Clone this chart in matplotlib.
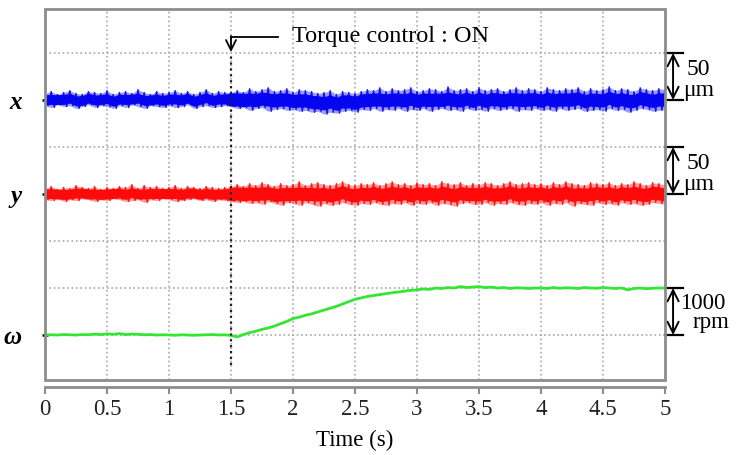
import numpy as np
import matplotlib
matplotlib.use("Agg")
import matplotlib.pyplot as plt
from matplotlib.patches import Rectangle

# time base: one sample every 0.05 s, 0 .. 5 s
t = np.linspace(0, 5, 101)

# x displacement envelope (um)
x_upper = [7, 9, 6, 8, 10, 7, 6, 9, 8, 7,
           10, 6, 8, 9, 7, 11, 8, 6, 9, 7,
           8, 10, 7, 9, 6, 8, 11, 7, 9, 8,
           8, 10, 8, 12, 9, 11, 13, 9, 10, 12,
           8, 11, 10, 9, 7, 8, 10, 6, 9, 8,
           7, 9, 11, 10, 13, 9, 12, 10, 11, 13,
           9, 10, 12, 11, 9, 14, 10, 11, 12, 9,
           13, 10, 11, 12, 9, 11, 13, 10, 12, 11,
           9, 13, 11, 10, 12, 11, 13, 9, 12, 10,
           11, 14, 10, 12, 11, 9, 13, 11, 10, 12,
           11]
x_lower = [-6, -8, -5, -7, -6, -9, -7, -5, -8, -6,
           -7, -9, -6, -8, -5, -7, -9, -6, -7, -8,
           -6, -8, -7, -5, -9, -7, -6, -8, -7, -6,
           -7, -9, -8, -11, -9, -8, -12, -10, -9, -11,
           -10, -12, -11, -13, -12, -15, -13, -14, -12, -11,
           -13, -10, -11, -9, -12, -10, -11, -9, -12, -10,
           -11, -9, -12, -10, -9, -11, -10, -12, -9, -11,
           -10, -12, -9, -11, -10, -9, -12, -10, -11, -9,
           -11, -10, -12, -9, -11, -10, -9, -12, -11, -10,
           -12, -9, -11, -10, -13, -11, -9, -10, -12, -11,
           -10]

# y displacement envelope (um), red band
y_upper = [6, 8, 5, 7, 6, 9, 7, 6, 8, 5,
           7, 6, 8, 7, 10, 6, 9, 7, 8, 6,
           7, 9, 6, 8, 7, 6, 8, 7, 6, 7,
           8, 10, 8, 11, 9, 12, 10, 8, 11, 9,
           10, 13, 9, 11, 12, 10, 9, 11, 13, 10,
           9, 11, 10, 12, 9, 11, 13, 10, 11, 9,
           12, 10, 11, 9, 13, 11, 10, 12, 9, 11,
           10, 12, 11, 9, 11, 13, 10, 11, 12, 10,
           11, 9, 12, 10, 13, 11, 10, 9, 12, 11,
           10, 12, 9, 11, 10, 13, 11, 9, 12, 11,
           10]
y_lower = [-6, -7, -5, -8, -6, -7, -5, -6, -8, -6,
           -7, -5, -6, -8, -7, -6, -9, -6, -7, -5,
           -6, -8, -7, -6, -5, -7, -6, -8, -6, -7,
           -8, -9, -8, -10, -9, -11, -8, -10, -12, -9,
           -10, -12, -9, -11, -13, -10, -12, -11, -9, -11,
           -12, -10, -11, -9, -11, -12, -10, -11, -9, -12,
           -10, -11, -9, -12, -10, -11, -13, -10, -9, -11,
           -11, -9, -12, -10, -11, -9, -11, -12, -10, -11,
           -9, -12, -10, -11, -9, -13, -10, -11, -12, -9,
           -11, -10, -12, -9, -11, -10, -12, -11, -9, -10,
           -11]

# rotor speed change (rpm)
omega = [0, 5, 0, 10, 5, 0, 10, 5, 20, 10,
         25, 15, 30, 10, 20, 15, 5, 10, 0, 5,
         0, -5, 5, 0, -5, 0, 5, 10, 0, 5,
         -10, -40, 10, 50, 80, 120, 150, 190, 240, 290,
         350, 380, 420, 450, 490, 530, 570, 610, 660, 710,
         760, 790, 820, 840, 860, 880, 900, 915, 935, 950,
         960, 980, 970, 1000, 990, 1010, 1000, 1030, 1010, 1020,
         1030, 1010, 1020, 1000, 1010, 990, 1005, 1000, 990, 1000,
         1000, 990, 1010, 995, 1005, 1000, 990, 1010, 1000, 995,
         1010, 1000, 990, 1000, 960, 990, 1000, 985, 995, 1000,
         1000]

x_ticks = [0, 0.5, 1, 1.5, 2, 2.5, 3, 3.5, 4, 4.5, 5]
x_ticklabels = ["0", "0.5", "1", "1.5", "2", "2.5", "3", "3.5", "4", "4.5", "5"]
sig_levels = [1, 4, 6]          # grid division of each trace baseline
sig_labels = ["ω", "y", "x"]
t_on = 1.5

# scales: one grid division = 50 um or 1000 rpm
UM_PER_DIV = 50.0
RPM_PER_DIV = 1000.0

plt.rcParams["font.family"] = ["Liberation Serif", "DejaVu Serif"]

fig = plt.figure(figsize=(7.37, 4.55), dpi=100)
ax = fig.add_axes([45 / 737, 1 - 380 / 455, 620 / 737, 371 / 455])

ax.set_xlim(0, 5)
ax.set_ylim(0.043, 7.936)

# grid
for gx in x_ticks[1:-1]:
    ax.axvline(gx, color="#a8a8a8", ls=":", lw=1.2, zorder=1)
for gy in range(1, 8):
    ax.axhline(gy, color="#a8a8a8", ls=":", lw=1.2, zorder=1)


def noise_band(level, upper, lower, color):
    up = level + np.array(upper) / UM_PER_DIV
    lo = level + np.array(lower) / UM_PER_DIV
    mid = (up + lo) / 2
    # solid core, narrower before the torque control starts
    half = np.where(t < t_on, 0.105, 0.14)
    ax.fill_between(t, mid - half, mid + half, color=color, lw=0, zorder=3)
    # soft outer band with spikes between the envelope points
    ax.fill_between(t, lo, up, color=color, lw=0, alpha=0.4, zorder=3)
    tz = np.empty(2 * len(t) - 1)
    yz = np.empty(2 * len(t) - 1)
    tz[0::2] = t
    tz[1::2] = t[:-1] + 0.025
    yz[0::2] = up
    yz[1::2] = lo[:-1]
    ax.plot(tz, yz, color=color, lw=1.0, alpha=0.9, zorder=3)


noise_band(sig_levels[2], x_upper, x_lower, "#0505f0")
noise_band(sig_levels[1], y_upper, y_lower, "#ff0a0a")
ax.plot(t, sig_levels[0] + np.array(omega) / RPM_PER_DIV, color="#33e633", lw=2, zorder=3)

# torque control switch-on marker
ax.plot([t_on, t_on], [0.36, 7.0], color="#202020", ls=":", lw=1.6, zorder=4)
ax.annotate("", xy=(t_on, 7.02), xytext=(t_on, 7.36),
            arrowprops=dict(arrowstyle="->", color="black", lw=1.3,
                            mutation_scale=18, shrinkA=0, shrinkB=0),
            annotation_clip=False)
ax.plot([t_on, 1.88], [7.35, 7.35], color="black", lw=1.3, clip_on=False)
ax.text(1.99, 7.35, "Torque control : ON", fontsize=17.5, va="center", ha="left")


# scale bars on the right
def scale_bar(y0):
    ax.annotate("", xy=(5.065, y0 + 1), xytext=(5.065, y0),
                arrowprops=dict(arrowstyle="<->", color="black", lw=1.4,
                                mutation_scale=20, shrinkA=0, shrinkB=0),
                annotation_clip=False)
    for yy in (y0, y0 + 1):
        ax.plot([5.0, 5.145], [yy, yy], color="black", lw=1.6, clip_on=False)


scale_bar(6)
scale_bar(4)
scale_bar(1)
for y0 in (6, 4):
    ax.text(5.27, y0 + 0.64, "50", fontsize=17, ha="center", va="center")
    ax.text(5.27, y0 + 0.21, "μm", fontsize=17, ha="center", va="center")
ax.text(5.12, 1.68, "1000", fontsize=16.5, ha="left", va="center")
ax.text(5.37, 1.27, "rpm", fontsize=16.5, ha="center", va="center")

# frame: gray box plus detached time axis
for side in ("top", "right", "left"):
    ax.spines[side].set_visible(False)
ax.add_patch(Rectangle((0, 0), 1, 1, transform=ax.transAxes, fill=False,
                       ec="#8c8c8c", lw=2, zorder=5, clip_on=False))
ax.spines["bottom"].set_position(("outward", 5))
ax.spines["bottom"].set_color("#8c8c8c")
ax.spines["bottom"].set_linewidth(2)

ax.set_xticks(x_ticks)
ax.set_xticklabels(x_ticklabels, fontsize=16.5)
ax.tick_params(axis="x", colors="#8c8c8c", length=5, width=1.5, labelcolor="#222222", pad=4)
ax.set_yticks(sig_levels)
ax.set_yticklabels(sig_labels, fontsize=18, fontweight="bold", fontstyle="italic")
ax.tick_params(axis="y", length=5, width=1.8, color="black", direction="inout", pad=14)
ax.set_xlabel("Time (s)", fontsize=16.5, labelpad=7)

fig.savefig("out.png", dpi=100)
